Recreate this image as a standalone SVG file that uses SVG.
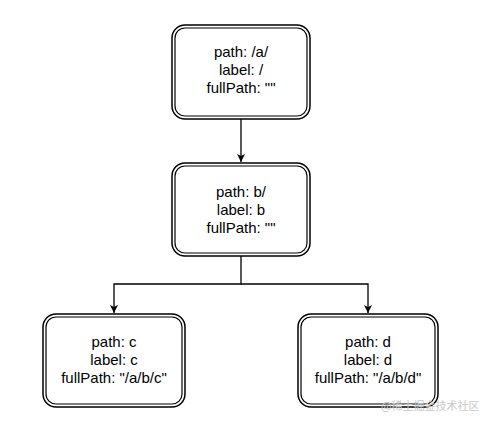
<svg xmlns="http://www.w3.org/2000/svg" width="485" height="425" viewBox="0 0 485 425">
  <style>
    .outer { fill: #ffffff; stroke: #000000; stroke-width: 1.5; }
    .inner { fill: none; stroke: #000000; stroke-width: 1.2; }
    .lbl { font-family: "Liberation Sans", "DejaVu Sans", sans-serif; font-size: 15px; fill: #000000; text-anchor: middle; }
    .edge { fill: none; stroke: #000000; stroke-width: 1.3; }
    .wm { font-family: "Noto Sans CJK SC", sans-serif; font-size: 11px; fill: #c8c8c8; }
  </style>
  <defs>
    <marker id="arrow" viewBox="0 0 10 10" refX="10" refY="5" markerWidth="8" markerHeight="8" markerUnits="userSpaceOnUse" orient="auto">
      <path d="M0,0 L10,5 L0,10 L2.5,5 Z" fill="#000000"/>
    </marker>
  </defs>
  <rect width="485" height="425" fill="#ffffff"/>
  <g id="connectors">
    <path class="edge" d="M241,119 L241,162" marker-end="url(#arrow)"/>
    <path class="edge" d="M241,256 L241,284 L114,284 L114,313" marker-end="url(#arrow)"/>
    <path class="edge" d="M241,284 L368,284 L368,313" marker-end="url(#arrow)"/>
  </g>
  <g id="node-a">
    <rect class="outer" x="172" y="25" width="138" height="94" rx="13"/>
    <rect class="inner" x="175" y="28" width="132" height="88" rx="10"/>
    <text class="lbl" x="241" y="57">path: /a/</text>
    <text class="lbl" x="241" y="75">label: /</text>
    <text class="lbl" x="241" y="93">fullPath: ""</text>
  </g>
  <g id="node-b">
    <rect class="outer" x="172" y="163" width="138" height="93" rx="13"/>
    <rect class="inner" x="175" y="166" width="132" height="87" rx="10"/>
    <text class="lbl" x="241" y="197">path: b/</text>
    <text class="lbl" x="241" y="215">label: b</text>
    <text class="lbl" x="241" y="233">fullPath: ""</text>
  </g>
  <g id="node-c">
    <rect class="outer" x="43" y="314" width="142" height="93" rx="13"/>
    <rect class="inner" x="46" y="317" width="136" height="87" rx="10"/>
    <text class="lbl" x="114" y="347">path: c</text>
    <text class="lbl" x="114" y="365">label: c</text>
    <text class="lbl" x="114" y="383">fullPath: "/a/b/c"</text>
  </g>
  <g id="node-d">
    <rect class="outer" x="298" y="314" width="140" height="93" rx="13"/>
    <rect class="inner" x="301" y="317" width="134" height="87" rx="10"/>
    <text class="lbl" x="368" y="347">path: d</text>
    <text class="lbl" x="368" y="365">label: d</text>
    <text class="lbl" x="368" y="383">fullPath: "/a/b/d"</text>
  </g>
  <text class="wm" x="381" y="410">@稀土掘金技术社区</text>
</svg>
